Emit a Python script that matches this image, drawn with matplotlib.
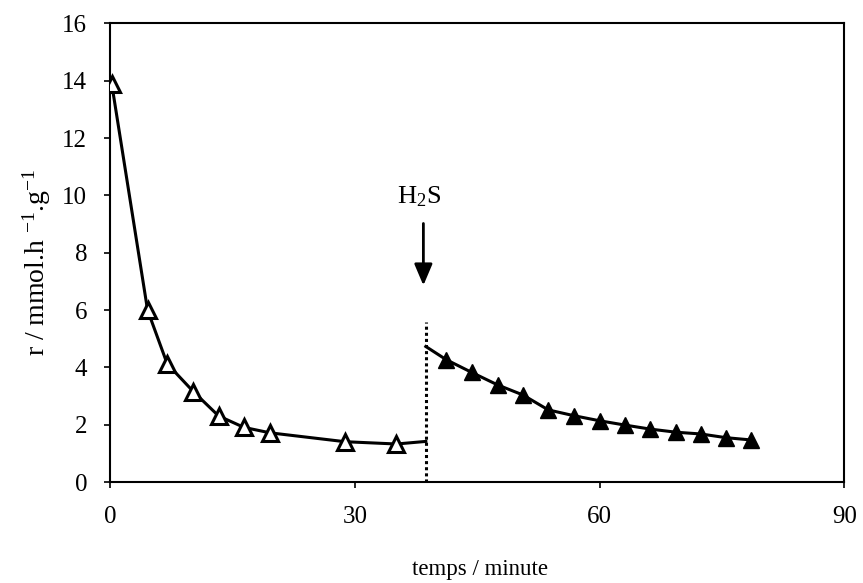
import matplotlib
matplotlib.use("Agg")
import matplotlib.pyplot as plt

# Data (time in minutes, rate in mmol.h-1.g-1)
t_before = [0.2, 4.6, 7.0, 10.2, 13.3, 16.4, 19.6, 28.8, 35.1]
r_before = [13.9, 6.0, 4.13, 3.16, 2.31, 1.91, 1.72, 1.41, 1.33]
t_before_end = 38.7
r_before_end = 1.42

t_after = [41.2, 44.3, 47.5, 50.6, 53.7, 56.8, 60.0, 63.1, 66.2, 69.4, 72.4, 75.5, 78.6]
r_after = [4.27, 3.83, 3.39, 3.04, 2.52, 2.32, 2.14, 1.99, 1.85, 1.74, 1.68, 1.55, 1.47]
t_after_start = 38.7
r_after_start = 4.73

t_switch = 38.7
r_switch_top = 5.6

x_ticks = [0, 30, 60, 90]
y_ticks = [0, 2, 4, 6, 8, 10, 12, 14, 16]

plt.rcParams['font.family'] = ['Liberation Serif', 'DejaVu Serif']
plt.rcParams['mathtext.fontset'] = 'custom'
plt.rcParams['mathtext.rm'] = 'Liberation Serif'
plt.rcParams['mathtext.it'] = 'Liberation Serif:italic'

W, H = 863, 583
fig = plt.figure(figsize=(W / 100, H / 100), dpi=100)
ax = fig.add_axes([0.1275, 0.173, 0.851, 0.787])

# dotted switch line
ax.plot([t_switch, t_switch], [0, r_switch_top], linestyle=(0, (1, 1)), color='black', lw=2.2)

# before H2S
ax.plot(t_before + [t_before_end], r_before + [r_before_end], color='black', lw=2.2, zorder=3)
ax.plot(t_before, r_before, linestyle='none', marker='^', ms=11, mfc='white',
        mec='black', mew=2.2, zorder=4)

# after H2S
ax.plot([t_after_start] + t_after, [r_after_start] + r_after, color='black', lw=2.2, zorder=3)
ax.plot(t_after, r_after, linestyle='none', marker='^', ms=11, mfc='black',
        mec='black', mew=1.0, zorder=4)

# annotation
ax.annotate('', xy=(38.4, 6.86), xytext=(38.4, 9.02),
            arrowprops=dict(arrowstyle='-|>,head_length=1.3,head_width=0.55',
                            color='black', lw=2.0, shrinkA=0, shrinkB=0))
ax.text(37.9, 9.95, r'H$_\mathregular{2}$S', ha='center', va='center', fontsize=19)

ax.set_xlim(0, 90)
ax.set_ylim(0, 16)
ax.set_xticks(x_ticks)
ax.set_yticks(y_ticks)
ax.tick_params(axis='both', direction='out', length=4.5, width=1.2, labelsize=18)
ax.tick_params(axis='x', pad=13)
ax.tick_params(axis='y', pad=12)
for s in ax.spines.values():
    s.set_linewidth(1.5)

fig.text(480 / W, 1 - 569 / H, 'temps / minute', ha='center', va='center', fontsize=16.5)
fig.text(37 / W, 1 - 262 / H, r'r / mmol.h $^\mathregular{-1}$.g$^\mathregular{-1}$',
         ha='center', va='center', rotation=90, fontsize=20)

fig.savefig('out.png', dpi=100)
